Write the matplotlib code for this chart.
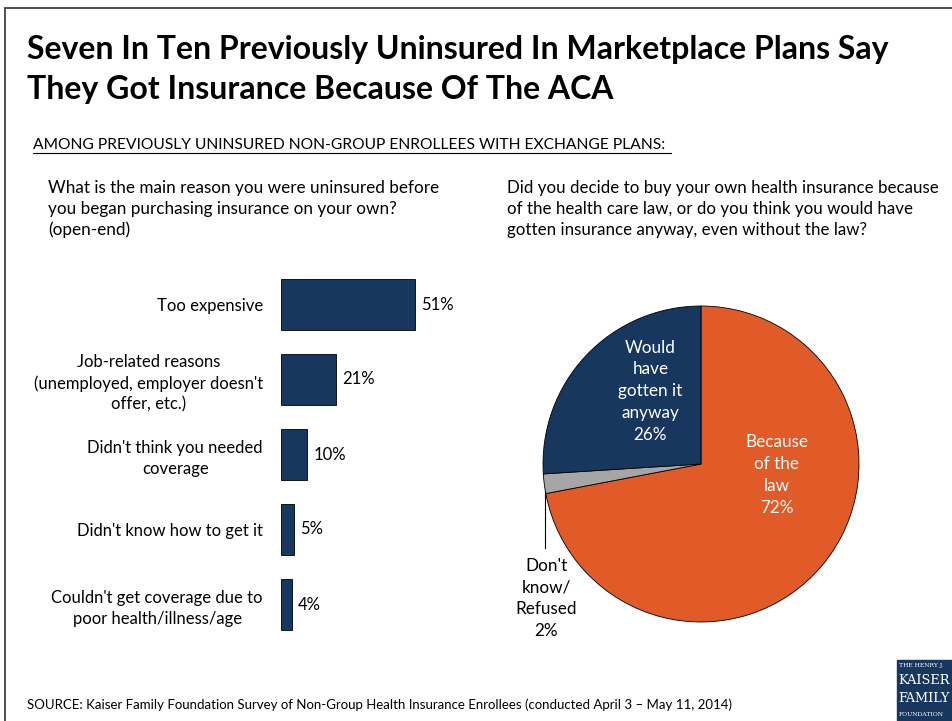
import matplotlib
matplotlib.use("Agg")
import matplotlib.pyplot as plt
from matplotlib.patches import Rectangle
from matplotlib.lines import Line2D

plt.rcParams['font.family'] = ['Lato', 'DejaVu Sans']

# data
reasons = ["Too expensive",
           "Job-related reasons\n(unemployed, employer doesn't\noffer, etc.)",
           "Didn't think you needed\ncoverage",
           "Didn't know how to get it",
           "Couldn't get coverage due to\npoor health/illness/age"]
reason_pct = [51, 21, 10, 5, 4]

pie_labels = ["Because\nof the\nlaw", "Don't\nknow/\nRefused", "Would\nhave\ngotten it\nanyway"]
pie_pct = [72, 2, 26]

navy = "#17375E"
orange = "#E05B27"
grey = "#A6A6A6"

W, H = 952, 721
fig = plt.figure(figsize=(W / 100, H / 100), dpi=100)


def fx(px):
    return px / W


def fy(py):
    return 1 - py / H


# outer frame
fig.add_artist(Rectangle((fx(5), fy(800)), fx(1000), fy(8) - fy(800),
                         transform=fig.transFigure, fill=False,
                         edgecolor="#404040", linewidth=1.3))

fig.text(fx(27), fy(50), "Seven In Ten Previously Uninsured In Marketplace Plans Say",
         fontsize=23, fontweight='bold', va='center', ha='left')
fig.text(fx(27), fy(89), "They Got Insurance Because Of The ACA",
         fontsize=23, fontweight='bold', va='center', ha='left')

fig.text(fx(33), fy(145), "AMONG PREVIOUSLY UNINSURED NON-GROUP ENROLLEES WITH EXCHANGE PLANS:",
         fontsize=11.25, va='center', ha='left')
fig.add_artist(Line2D([fx(33), fx(671)], [fy(153), fy(153)], color='black', lw=0.8))

fig.text(fx(48), fy(209), "What is the main reason you were uninsured before\n"
         "you began purchasing insurance on your own?\n(open-end)",
         fontsize=12.3, va='center', ha='left', linespacing=1.35)
fig.text(fx(507), fy(209), "Did you decide to buy your own health insurance because\n"
         "of the health care law, or do you think you would have\n"
         "gotten insurance anyway, even without the law?",
         fontsize=12.2, va='center', ha='left', linespacing=1.35)

# bar chart
ax = fig.add_axes([fx(281), fy(642), fx(263), fy(267) - fy(642)])
ypos = list(range(len(reasons)))
ax.barh(ypos, reason_pct, height=0.69, color=navy, edgecolor='black', linewidth=0.6)
ax.set_xlim(0, 100)
ax.set_ylim(len(reasons) - 0.5, -0.5)
ax.set_yticks(ypos)
ax.set_yticklabels(reasons, fontsize=12)
for lbl in ax.get_yticklabels():
    lbl.set_multialignment('center')
    lbl.set_linespacing(1.35)
ax.tick_params(axis='y', length=0, pad=13)
ax.set_xticks([])
for s in ax.spines.values():
    s.set_visible(False)
for y, v in zip(ypos, reason_pct):
    ax.text(v + 2.3, y, f"{v}%", va='center', ha='left', fontsize=12)

# pie chart
pax = fig.add_axes([fx(543), fy(622), fx(316), fy(306) - fy(622)])
wedges, _ = pax.pie(pie_pct, colors=[orange, grey, navy], startangle=90,
                    counterclock=False, radius=1,
                    wedgeprops=dict(edgecolor='black', linewidth=0.6))
pax.set_xlim(-1, 1)
pax.set_ylim(-1, 1)

lbl_kw = dict(ha='center', va='center', fontsize=12.3, linespacing=1.45)
pax.text(0.48, -0.07, f"{pie_labels[0]}\n{pie_pct[0]}%", color='white', **lbl_kw)
pax.text(-0.32, 0.46, f"{pie_labels[2]}\n{pie_pct[2]}%", color='white', **lbl_kw)
pax.text(-0.98, -0.85, f"{pie_labels[1]}\n{pie_pct[1]}%", color='black', **lbl_kw)
pax.plot([-0.99, -0.99], [-0.17, -0.53], color='black', lw=0.8, clip_on=False)

fig.text(fx(27), fy(705), "SOURCE: Kaiser Family Foundation Survey of Non-Group Health Insurance Enrollees "
         "(conducted April 3 \u2013 May 11, 2014)", fontsize=9.5, va='center', ha='left')

# logo block
fig.add_artist(Rectangle((fx(897), fy(721)), fx(60), fy(660) - fy(721),
                         transform=fig.transFigure, color=navy))
fig.text(fx(899), fy(666), "THE HENRY J.", color='white', fontsize=4.3,
         family='DejaVu Serif', va='center', ha='left')
fig.text(fx(898), fy(681), "KAISER", color='white', fontsize=9.3,
         family='DejaVu Serif', va='center', ha='left')
fig.text(fx(898), fy(698), "FAMILY", color='white', fontsize=9.3,
         family='DejaVu Serif', va='center', ha='left')
fig.text(fx(899), fy(714), "FOUNDATION", color='white', fontsize=4.3,
         family='DejaVu Serif', va='center', ha='left')

fig.savefig("out.png", dpi=100)
